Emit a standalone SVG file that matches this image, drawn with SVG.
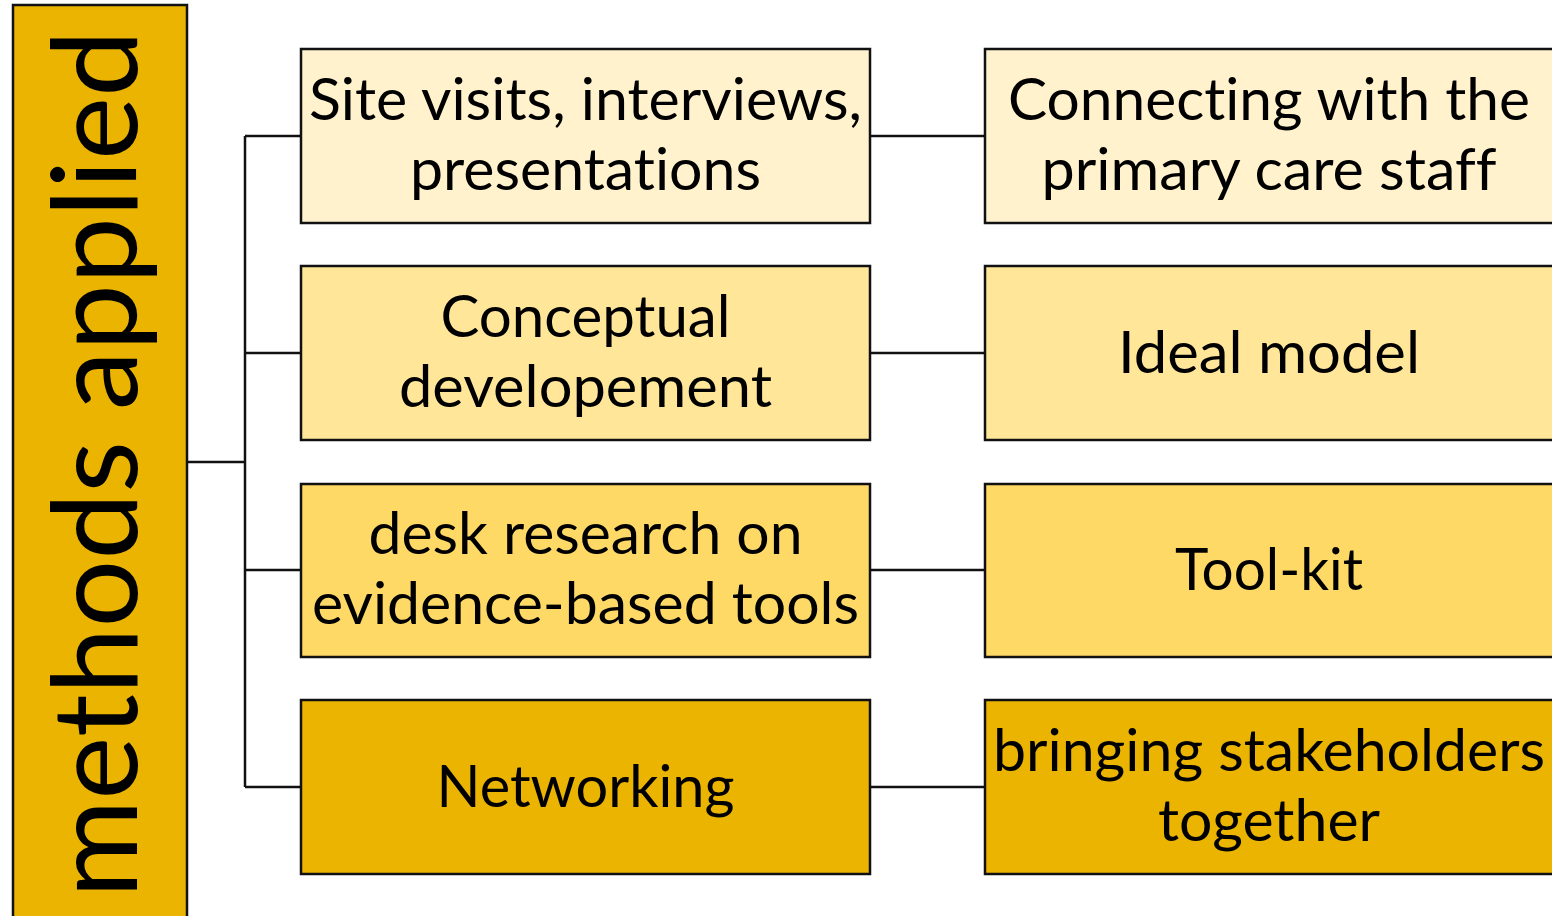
<svg xmlns="http://www.w3.org/2000/svg" width="1552" height="916" viewBox="0 0 1552 916">
<style>
.box{stroke:#111;stroke-width:2.5}
.c1{fill:#FFF2CC}.c2{fill:#FFE699}.c3{fill:#FFD966}.c4{fill:#EAB400}
.t{font-family:Lato,"Open Sans","Liberation Sans",sans-serif;font-size:58px;fill:#000;text-anchor:middle;font-variant-ligatures:none}
.big{font-family:Lato,"Open Sans","Liberation Sans",sans-serif;font-size:118px;fill:#000;text-anchor:middle;font-variant-ligatures:none}
.ln{fill:none;stroke:#111;stroke-width:2.5}
</style>
<rect width="1552" height="916" fill="#fff"/>
<g id="connectors">
<path class="ln" d="M187 462H245M245 136V787M245 136H301M245 353H301M245 570H301M245 787H301"/>
<path class="ln" d="M870 136H985M870 353H985M870 570H985M870 787H985"/>
</g>
<g id="root">
<rect class="box c4" x="13" y="5" width="174" height="920"/>
<text class="big" transform="translate(137,464) rotate(-90)" textLength="868" lengthAdjust="spacingAndGlyphs">methods applied</text>
</g>
<g id="m1">
<rect class="box c1" x="301" y="49" width="569" height="174"/>
<text class="t" x="585.5" y="120" textLength="553" lengthAdjust="spacingAndGlyphs">Site visits, interviews,</text>
<text class="t" x="585.5" y="190" textLength="351" lengthAdjust="spacingAndGlyphs">presentations</text>
</g>
<g id="r1">
<rect class="box c1" x="985" y="49" width="569" height="174"/>
<text class="t" x="1269" y="120" textLength="522" lengthAdjust="spacingAndGlyphs">Connecting with the</text>
<text class="t" x="1269" y="190" textLength="455" lengthAdjust="spacingAndGlyphs">primary care staff</text>
</g>
<g id="m2">
<rect class="box c2" x="301" y="266" width="569" height="174"/>
<text class="t" x="585.5" y="337" textLength="290" lengthAdjust="spacingAndGlyphs">Conceptual</text>
<text class="t" x="585.5" y="407" textLength="373" lengthAdjust="spacingAndGlyphs">developement</text>
</g>
<g id="r2">
<rect class="box c2" x="985" y="266" width="569" height="174"/>
<text class="t" x="1269" y="373" textLength="302" lengthAdjust="spacingAndGlyphs">Ideal model</text>
</g>
<g id="m3">
<rect class="box c3" x="301" y="484" width="569" height="173"/>
<text class="t" x="585.5" y="554" textLength="434" lengthAdjust="spacingAndGlyphs">desk research on</text>
<text class="t" x="585.5" y="624" textLength="547" lengthAdjust="spacingAndGlyphs">evidence-based tools</text>
</g>
<g id="r3">
<rect class="box c3" x="985" y="484" width="569" height="173"/>
<text class="t" x="1269" y="590" textLength="188" lengthAdjust="spacingAndGlyphs">Tool-kit</text>
</g>
<g id="m4">
<rect class="box c4" x="301" y="700" width="569" height="174"/>
<text class="t" x="585.5" y="807" textLength="298" lengthAdjust="spacingAndGlyphs">Networking</text>
</g>
<g id="r4">
<rect class="box c4" x="985" y="700" width="569" height="174"/>
<text class="t" x="1269" y="771" textLength="552" lengthAdjust="spacingAndGlyphs">bringing stakeholders</text>
<text class="t" x="1269" y="841" textLength="222" lengthAdjust="spacingAndGlyphs">together</text>
</g>
</svg>
